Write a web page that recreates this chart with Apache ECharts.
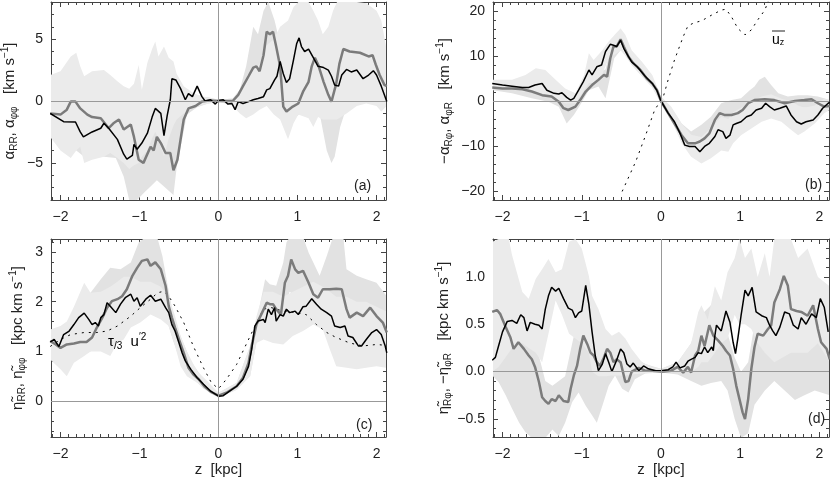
<!DOCTYPE html>
<html>
<head>
<meta charset="utf-8">
<script src="https://cdn.jsdelivr.net/npm/echarts@6/dist/echarts.min.js"></script>
<style>html,body{margin:0;padding:0;background:#fff}#chart{width:830px;height:480px}</style>
</head>
<body>
<div id="chart"></div>
<script>
// x range shared by all four panels (kpc)
const zRange = [-2.12, 2.12];
const zLabels = [-2, -1, 0, 1, 2];

// ---- panel (a): alpha_RR (black), alpha_phiphi (grey) ----
const aBlack = [[-2.13,-1.0],[-1.96,-1.67],[-1.81,-1.7],[-1.75,-2.5],[-1.71,-2.9],[-1.60,-2.5],[-1.49,-2.2],[-1.45,-1.8],[-1.39,-2.2],[-1.28,-3.1],[-1.20,-4.3],[-1.16,-4.7],[-1.09,-4.4],[-1.07,-3.5],[-1.03,-3.9],[-0.97,-3.4],[-0.90,-2.6],[-0.84,-1.3],[-0.80,-0.6],[-0.73,-1.0],[-0.69,-2.8],[-0.65,-1.2],[-0.61,0.1],[-0.59,1.8],[-0.54,1.7],[-0.48,1.0],[-0.42,0.1],[-0.38,0.6],[-0.33,0.35],[-0.27,1.2],[-0.21,0.35],[-0.17,0],[-0.10,0.1],[-0.04,-0.25],[0,0.05],
  [0.06,0.1],[0.12,-0.25],[0.17,-0.2],[0.21,-0.7],[0.25,-0.05],[0.31,-0.2],[0.38,-0.05],[0.44,0.1],[0.50,0.2],[0.57,0.35],[0.61,0.9],[0.65,1.0],[0.71,1.7],[0.74,2.0],[0.78,3.2],[0.82,2.2],[0.86,1.5],[0.90,1.8],[0.95,3.35],[0.99,4.65],[1.02,5.1],[1.05,4.4],[1.09,4.0],[1.14,4.2],[1.20,3.5],[1.26,2.8],[1.33,2.7],[1.39,2.5],[1.43,2.0],[1.47,1.3],[1.52,1.2],[1.56,2.1],[1.62,2.55],[1.68,2.35],[1.75,2.5],[1.83,1.8],[1.90,2.1],[1.96,2.45],[2.0,2.1],[2.06,1.2],[2.13,-0.05]];
const aGrey = [[-2.13,-1.0],[-2.0,-1.1],[-1.92,-0.7],[-1.87,-0.05],[-1.81,-0.05],[-1.75,-0.6],[-1.66,-1.1],[-1.60,-1.3],[-1.49,-1.4],[-1.39,-2.2],[-1.33,-1.8],[-1.26,-1.5],[-1.20,-2.3],[-1.11,-1.9],[-1.07,-2.9],[-1.01,-4.75],[-0.95,-5.0],[-0.86,-3.7],[-0.82,-4.0],[-0.78,-2.9],[-0.73,-3.4],[-0.67,-4.2],[-0.61,-4.2],[-0.57,-5.6],[-0.52,-4.75],[-0.48,-3.1],[-0.44,-1.5],[-0.38,-0.6],[-0.29,-0.4],[-0.21,-0.05],[-0.10,0.05],[0,0],
  [0.10,0],[0.18,0],[0.25,0.5],[0.31,1.2],[0.38,2.0],[0.44,2.7],[0.48,2.8],[0.52,2.4],[0.57,3.7],[0.61,5.6],[0.65,5.4],[0.69,5.6],[0.73,4.4],[0.78,2.8],[0.82,-0.45],[0.86,-0.85],[0.94,-0.45],[1.01,-0.2],[1.07,0.75],[1.14,1.55],[1.18,2.8],[1.22,3.5],[1.26,2.95],[1.33,1.55],[1.39,0.5],[1.43,-0.05],[1.49,1.4],[1.53,3.0],[1.58,4.2],[1.66,4.0],[1.79,3.9],[1.90,3.6],[1.95,3.7],[1.99,2.95],[2.04,2.1],[2.10,1.3],[2.13,1.2]];
// error bands: [z, low, high]
const aBandBlack = [[-2.13,-2.9,2.1],[-2.0,-4.0,2.4],[-1.87,-4.6,3.6],[-1.8,-4.0,3.9],[-1.75,-3.7,2.8],[-1.7,-5.0,2.0],[-1.6,-4.75,2.4],[-1.45,-4.5,2.5],[-1.37,-4.2,2.1],[-1.28,-4.6,1.6],[-1.2,-5.0,1.2],[-1.13,-5.5,1.0],[-1.07,-5.2,1.4],[-1.01,-5.0,2.9],[-0.97,-4.5,0.9],[-0.9,-4.0,3.1],[-0.84,-3.0,4.2],[-0.8,-2.5,4.8],[-0.76,-3.0,3.6],[-0.69,-4.5,4.4],[-0.63,-3.0,3.5],[-0.57,-2.0,3.2],[-0.53,-1.5,2.2],[-0.44,-1.0,1.2],[-0.31,-0.5,0.6],[-0.19,-0.3,0.35],[0,-0.05,0.1],
  [0.18,-0.4,0.2],[0.27,-1.0,0.9],[0.35,-1.4,1.5],[0.44,-1.1,2.5],[0.52,-0.7,3.0],[0.61,-0.4,4.5],[0.7,-1.1,5.0],[0.78,-1.5,6.0],[0.88,-3.1,6.5],[0.95,-1.8,7.6],[1.01,-1.1,8],[1.14,-1.4,8],[1.2,-2.1,7.3],[1.26,-1.3,6.5],[1.32,-1.5,5.4],[1.39,-1.5,6.0],[1.45,-1.5,7.3],[1.5,-1.5,8],[1.62,-1.0,8],[1.75,-0.4,8],[1.87,-0.2,7.9],[2.0,-0.4,7.3],[2.06,-0.85,6.5],[2.13,-0.4,4.1]];
const aBandGrey = [[-2.13,-2.5,1.0],[-2.0,-3.5,1.5],[-1.87,-4.0,2.5],[-1.8,-4.0,2.5],[-1.7,-4.5,1.0],[-1.6,-4.5,0.5],[-1.45,-4.5,0.2],[-1.3,-4.6,0],[-1.2,-6.1,-0.5],[-1.13,-8,-1.5],[-1.03,-8,-2.0],[-0.94,-7.4,-1.0],[-0.86,-6.9,-0.5],[-0.78,-6.4,0],[-0.69,-6.9,0],[-0.57,-7.6,-1.0],[-0.53,-5.4,-1.5],[-0.46,-3.1,-0.5],[-0.4,-1.1,0.3],[-0.27,-0.5,0.4],[-0.13,-0.2,0.3],[0,-0.05,0.1],
  [0.18,-0.3,0.2],[0.27,-0.5,0.9],[0.35,-0.5,2.8],[0.44,0.0,6.0],[0.5,0.5,5.4],[0.57,1.0,7.3],[0.63,1.5,8],[0.71,1.0,6.5],[0.78,-1.0,4.6],[0.82,-1.5,2.5],[0.88,-2.0,1.5],[0.95,-1.5,1.0],[1.03,-1.0,2.0],[1.11,-1.0,4.0],[1.2,-1.5,5.0],[1.28,-1.0,4.0],[1.37,-4.0,2.5],[1.43,-5.0,2.0],[1.47,-4.5,3.0],[1.54,-2.1,5.0],[1.62,-0.5,6.5],[1.75,0,6.5],[1.87,0.5,6.5],[2.0,0.0,6.0],[2.13,-0.2,4.0]];

// ---- panel (b): -alpha_Rphi (black), alpha_phiR (grey), mean u_z (dotted) ----
const bBlack = [[-2.13,3.9],[-2.0,3.55],[-1.88,3.3],[-1.75,3.0],[-1.67,3.0],[-1.59,3.55],[-1.50,3.9],[-1.44,2.4],[-1.35,1.7],[-1.29,1.55],[-1.25,1.85],[-1.19,0.8],[-1.14,0.2],[-1.10,0.6],[-1.04,2.4],[-0.98,4.3],[-0.91,6.9],[-0.87,5.8],[-0.81,7.6],[-0.75,8.0],[-0.70,11.0],[-0.64,12.6],[-0.60,12.4],[-0.56,12.1],[-0.51,13.5],[-0.47,11.7],[-0.41,9.85],[-0.37,8.7],[-0.30,7.6],[-0.20,5.5],[-0.11,3.9],[-0.05,2.3],[0,0],
  [0.09,-2.7],[0.17,-4.6],[0.24,-7.2],[0.30,-9.8],[0.36,-10.1],[0.43,-10.1],[0.49,-11.3],[0.55,-10.1],[0.61,-9.4],[0.68,-7.9],[0.72,-6.4],[0.78,-6.8],[0.82,-8.3],[0.87,-7.6],[0.91,-5.3],[0.95,-5.0],[1.01,-4.6],[1.08,-3.5],[1.14,-3.1],[1.20,-2.0],[1.27,-1.6],[1.32,-0.5],[1.37,-1.25],[1.43,-2.0],[1.50,-1.6],[1.58,-1.1],[1.64,-3.1],[1.71,-4.6],[1.77,-5.1],[1.83,-4.6],[1.92,-4.2],[1.98,-3.1],[2.04,-1.6],[2.11,-0.5],[2.13,-0.3]];
const bGrey = [[-2.13,3.0],[-2.0,2.8],[-1.88,2.8],[-1.75,2.6],[-1.63,2.1],[-1.50,1.3],[-1.38,1.0],[-1.29,-0.15],[-1.23,-1.6],[-1.17,-2.0],[-1.08,-1.25],[-1.02,0.2],[-0.95,2.1],[-0.87,3.55],[-0.79,4.7],[-0.72,5.8],[-0.68,5.4],[-0.64,9.5],[-0.60,12.1],[-0.56,12.1],[-0.51,13.7],[-0.47,12.1],[-0.41,9.85],[-0.35,8.4],[-0.26,6.9],[-0.18,5.0],[-0.11,3.9],[-0.05,2.4],[0,0],
  [0.09,-2.7],[0.17,-5.0],[0.26,-7.6],[0.34,-9.4],[0.43,-9.4],[0.49,-9.0],[0.55,-8.3],[0.61,-7.2],[0.68,-4.2],[0.74,-2.7],[0.80,-3.1],[0.89,-3.1],[0.97,-2.7],[1.03,-2.0],[1.10,-0.5],[1.18,0.2],[1.31,0.4],[1.43,0.2],[1.56,-0.5],[1.69,0],[1.81,0.2],[1.90,0.4],[1.98,-0.5],[2.06,-1.25],[2.13,-1.1]];
const bUz = [[-0.49,-20.1],[-0.32,-13.5],[-0.2,-7.9],[-0.08,-2],[0.03,1.0],[0.09,4.7],[0.17,9.1],[0.28,14.3],[0.34,16.7],[0.42,17.4],[0.51,17.8],[0.64,19.1],[0.76,20.2],[0.82,20.4],[0.89,18.7],[0.97,16.1],[1.06,14.7],[1.14,15.8],[1.22,18.0],[1.31,20.2],[1.36,22.5]];
const bBandBlack = [[-2.13,3.0,4.7],[-1.88,2.5,4.7],[-1.71,2.0,5.8],[-1.58,2.0,7.3],[-1.46,1.5,6.9],[-1.33,0.5,4.7],[-1.21,-0.5,2.8],[-1.08,-0.5,1.7],[-0.97,2.4,5.8],[-0.91,4.0,10.6],[-0.85,4.0,9.1],[-0.74,6.0,11.3],[-0.66,9.5,13.2],[-0.57,10.5,15.0],[-0.51,11.3,16.1],[-0.45,10.0,14.7],[-0.37,8.0,11.3],[-0.24,5.5,8.7],[-0.11,3.0,5.8],[0,-0.5,1.0],
  [0.13,-4.2,-1.25],[0.26,-9.4,-5.0],[0.38,-12.4,-7.5],[0.51,-13.9,-8.0],[0.63,-12.7,-6.0],[0.76,-11.0,-3.5],[0.85,-11.3,-4.0],[0.91,-9.4,-2.5],[1.01,-7.6,-1.5],[1.14,-6.1,0],[1.27,-4.6,1.0],[1.39,-3.9,1.5],[1.52,-4.6,0.5],[1.64,-6.4,0],[1.73,-7.6,-1.0],[1.81,-6.8,-1.5],[1.94,-5.0,-1.0],[2.06,-2.7,0.5],[2.13,-2.0,0.2]];
const bBandGrey = [[-2.13,2.4,4.0],[-1.88,1.7,3.8],[-1.63,0.6,3.5],[-1.42,-0.15,2.5],[-1.29,-1.25,1.0],[-1.19,-5.0,-0.5],[-1.10,-3.1,0.5],[-1.02,-0.9,1.5],[-0.91,2.4,4.5],[-0.79,3.2,6.5],[-0.70,0.6,7.0],[-0.66,3.9,10.0],[-0.59,9.5,13.5],[-0.51,11.3,16.1],[-0.45,10.5,14.0],[-0.37,8.0,11.0],[-0.20,4.7,7.5],[-0.11,3.0,5.0],[0,-0.5,1.0],
  [0.13,-4.0,-1.5],[0.26,-9.0,-5.0],[0.38,-11.5,-6.8],[0.51,-11.5,-5.3],[0.63,-10.0,-3.5],[0.76,-6.0,-0.5],[0.89,-5.5,0.2],[1.01,-5.0,0.6],[1.12,-3.0,2.4],[1.18,-2.5,3.2],[1.24,-2.0,4.7],[1.31,-1.5,5.4],[1.39,-2.0,3.55],[1.48,-2.5,1.7],[1.60,-2.0,1.0],[1.73,-1.5,1.3],[1.85,-1.5,1.3],[1.98,-2.0,1.0],[2.13,-2.0,0.2]];

// ---- panel (c): eta_RR (black), eta_phiphi (grey), tau/3 u'^2 (dotted) ----
const cBlack = [[-2.13,1.19],[-2.08,1.24],[-2.02,1.1],[-1.96,1.34],[-1.89,1.41],[-1.83,1.54],[-1.77,1.68],[-1.70,1.77],[-1.64,1.64],[-1.60,1.54],[-1.56,1.58],[-1.52,1.51],[-1.49,1.68],[-1.45,1.74],[-1.41,1.98],[-1.37,1.91],[-1.30,1.78],[-1.24,1.95],[-1.18,2.08],[-1.11,2.15],[-1.07,2.01],[-1.03,2.08],[-0.99,1.91],[-0.92,2.05],[-0.86,2.13],[-0.80,2.01],[-0.73,2.05],[-0.67,1.88],[-0.63,1.78],[-0.59,1.54],[-0.55,1.41],[-0.50,1.17],[-0.46,0.97],[-0.42,0.81],[-0.35,0.64],[-0.27,0.47],[-0.19,0.34],[-0.10,0.2],[0,0.1],
  [0.06,0.11],[0.14,0.2],[0.23,0.3],[0.31,0.44],[0.38,0.7],[0.42,1.04],[0.46,1.51],[0.50,1.61],[0.57,1.64],[0.59,1.58],[0.63,1.85],[0.67,1.74],[0.71,1.88],[0.73,1.61],[0.78,1.74],[0.82,1.71],[0.86,1.85],[0.90,1.78],[0.97,1.81],[1.01,1.74],[1.07,1.9],[1.11,1.91],[1.18,2.06],[1.24,1.95],[1.30,1.85],[1.37,1.78],[1.43,1.71],[1.47,1.51],[1.54,1.48],[1.60,1.51],[1.64,1.31],[1.70,1.28],[1.77,1.11],[1.81,1.11],[1.87,1.24],[1.94,1.38],[2.0,1.44],[2.06,1.34],[2.11,1.11],[2.13,0.97]];
const cGrey = [[-2.13,1.21],[-2.06,1.14],[-2.0,1.07],[-1.92,1.14],[-1.83,1.16],[-1.75,1.19],[-1.67,1.19],[-1.60,1.28],[-1.54,1.48],[-1.47,1.68],[-1.41,1.88],[-1.35,2.01],[-1.28,2.05],[-1.22,2.11],[-1.16,2.25],[-1.09,2.52],[-1.03,2.68],[-0.97,2.82],[-0.90,2.85],[-0.86,2.72],[-0.80,2.79],[-0.73,2.65],[-0.67,2.32],[-0.63,1.91],[-0.59,1.68],[-0.55,1.48],[-0.50,1.24],[-0.44,0.97],[-0.38,0.67],[-0.32,0.54],[-0.25,0.44],[-0.18,0.3],[-0.09,0.18],[0,0.11],
  [0.10,0.17],[0.23,0.3],[0.31,0.47],[0.38,0.77],[0.42,1.11],[0.48,1.54],[0.54,1.74],[0.61,1.98],[0.65,1.95],[0.69,1.95],[0.73,1.85],[0.79,1.74],[0.84,2.38],[0.88,2.52],[0.92,2.85],[0.97,2.65],[1.01,2.58],[1.07,2.62],[1.14,2.38],[1.20,2.15],[1.26,2.08],[1.32,2.25],[1.41,2.25],[1.49,2.26],[1.56,2.25],[1.62,1.85],[1.66,1.68],[1.75,1.78],[1.83,1.71],[1.92,1.88],[2.0,1.71],[2.08,1.58],[2.13,1.38]];
const cTau = [[-2.13,1.1],[-2.0,1.24],[-1.87,1.34],[-1.70,1.38],[-1.54,1.38],[-1.41,1.41],[-1.28,1.51],[-1.11,1.71],[-0.99,1.88],[-0.86,2.05],[-0.77,2.18],[-0.69,2.21],[-0.63,2.11],[-0.55,1.91],[-0.44,1.58],[-0.32,1.11],[-0.19,0.67],[-0.09,0.37],[0,0.25],
  [0.10,0.44],[0.23,0.74],[0.35,1.14],[0.44,1.44],[0.50,1.64],[0.57,1.85],[0.67,1.88],[0.82,1.81],[0.99,1.78],[1.11,1.74],[1.24,1.54],[1.37,1.38],[1.49,1.28],[1.66,1.17],[1.83,1.11],[2.0,1.14],[2.13,1.12]];
const cBandBlack = [[-2.13,0.84,1.44],[-2.0,0.64,1.51],[-1.92,0.5,1.6],[-1.83,0.77,1.9],[-1.7,0.91,2.38],[-1.62,1.0,2.18],[-1.49,1.0,2.2],[-1.37,0.91,2.3],[-1.28,1.17,2.4],[-1.2,1.24,2.5],[-1.11,1.48,2.5],[-0.99,1.58,2.4],[-0.86,1.74,2.4],[-0.73,1.64,2.3],[-0.63,1.51,2.1],[-0.55,1.11,1.71],[-0.48,0.7,1.31],[-0.4,0.5,1.0],[-0.27,0.37,0.6],[-0.14,0.23,0.4],[0,0.07,0.17],
  [0.23,0.23,0.37],[0.4,0.5,1.11],[0.48,1.17,1.7],[0.57,1.24,2.2],[0.69,1.17,2.2],[0.82,1.14,2.1],[0.94,1.31,2.2],[1.07,1.41,2.3],[1.2,1.54,2.4],[1.32,1.44,2.3],[1.41,1.04,2.2],[1.49,0.7,2.1],[1.62,0.67,2.1],[1.75,0.64,2.0],[1.87,0.67,2.0],[2.0,0.7,1.9],[2.13,0.67,1.8]];
const cBandGrey = [[-2.13,0.9,1.44],[-2.0,0.8,1.4],[-1.87,0.8,1.64],[-1.75,0.9,2.05],[-1.62,1.0,2.18],[-1.49,1.2,2.45],[-1.37,1.5,2.68],[-1.24,1.6,2.65],[-1.11,1.9,2.79],[-1.01,2.2,3.19],[-0.92,2.3,3.3],[-0.86,2.2,3.3],[-0.77,2.1,3.26],[-0.71,1.9,2.92],[-0.65,1.6,2.38],[-0.57,1.2,1.71],[-0.48,0.8,1.31],[-0.35,0.5,0.81],[-0.19,0.25,0.44],[0,0.07,0.17],
  [0.23,0.23,0.37],[0.4,0.5,1.11],[0.48,1.17,1.6],[0.52,1.3,1.91],[0.59,1.5,2.45],[0.65,1.6,2.35],[0.73,1.5,2.32],[0.82,1.8,2.79],[0.86,2.0,3.19],[0.9,2.2,3.3],[1.07,2.0,3.3],[1.14,1.8,2.99],[1.2,1.6,2.79],[1.28,1.5,2.52],[1.37,1.6,2.92],[1.45,1.5,3.3],[1.58,1.4,3.3],[1.62,1.2,2.65],[1.75,1.2,2.52],[1.87,1.2,2.45],[2.0,1.1,2.38],[2.13,1.0,2.11]];

// ---- panel (d): eta_Rphi (black), -eta_phiR (grey) ----
const dBlack = [[-2.13,0.12],[-2.09,0.15],[-2.05,0.27],[-2.0,0.42],[-1.94,0.53],[-1.88,0.54],[-1.82,0.51],[-1.77,0.6],[-1.73,0.57],[-1.69,0.43],[-1.65,0.52],[-1.59,0.5],[-1.54,0.49],[-1.50,0.45],[-1.46,0.66],[-1.42,0.8],[-1.38,0.89],[-1.33,0.85],[-1.29,0.88],[-1.23,0.77],[-1.17,0.67],[-1.12,0.65],[-1.08,0.57],[-1.04,0.62],[-1.0,0.64],[-0.95,0.91],[-0.91,0.71],[-0.87,0.42],[-0.83,0.17],[-0.79,0.01],[-0.74,0.08],[-0.70,0.19],[-0.66,0.1],[-0.62,0],[-0.56,0.12],[-0.51,0.24],[-0.47,0.2],[-0.43,0.08],[-0.39,0.05],[-0.35,0.09],[-0.28,0.01],[-0.22,0.06],[-0.16,0.03],[-0.07,0.01],[0,0.01],
  [0.09,0.02],[0.15,0.05],[0.19,0.1],[0.24,0.04],[0.30,0.06],[0.34,0.11],[0.38,0.13],[0.43,0.15],[0.47,0.2],[0.51,0.19],[0.55,0.26],[0.59,0.2],[0.64,0.26],[0.66,0.22],[0.68,0.38],[0.70,0.49],[0.72,0.5],[0.76,0.43],[0.82,0.64],[0.87,0.52],[0.91,0.31],[0.94,0.19],[0.97,0.35],[1.01,0.59],[1.06,0.86],[1.10,0.8],[1.15,0.89],[1.20,0.63],[1.27,0.59],[1.33,0.57],[1.37,0.49],[1.41,0.43],[1.45,0.38],[1.50,0.47],[1.56,0.63],[1.62,0.61],[1.67,0.49],[1.73,0.45],[1.77,0.57],[1.83,0.5],[1.90,0.61],[1.96,0.57],[2.01,0.77],[2.06,0.68],[2.11,0.42]];
const dGrey = [[-2.13,0.63],[-2.07,0.65],[-2.03,0.61],[-1.96,0.47],[-1.90,0.36],[-1.86,0.24],[-1.80,0.31],[-1.73,0.24],[-1.67,0.17],[-1.63,0.13],[-1.59,0.05],[-1.54,-0.11],[-1.50,-0.27],[-1.46,-0.31],[-1.42,-0.34],[-1.38,-0.29],[-1.33,-0.31],[-1.29,-0.25],[-1.23,-0.31],[-1.17,-0.32],[-1.14,-0.18],[-1.10,-0.04],[-1.06,0.06],[-1.02,0.24],[-0.98,0.38],[-0.93,0.29],[-0.89,0.2],[-0.85,0.17],[-0.81,0.1],[-0.77,0.06],[-0.72,0.15],[-0.68,0.24],[-0.64,0.2],[-0.60,0.1],[-0.56,0.13],[-0.51,0.1],[-0.45,-0.11],[-0.41,-0.1],[-0.37,0],[-0.28,0.04],[-0.20,0.01],[-0.11,0.01],[0,0],
  [0.13,0.01],[0.21,0.05],[0.28,-0.01],[0.34,0.05],[0.38,-0.01],[0.43,0.17],[0.47,0.22],[0.51,0.38],[0.55,0.27],[0.61,0.49],[0.66,0.38],[0.72,0.33],[0.78,0.27],[0.82,0.22],[0.87,0.17],[0.91,0.03],[0.95,-0.15],[0.99,-0.29],[1.03,-0.43],[1.06,-0.5],[1.10,-0.29],[1.14,0.03],[1.18,0.26],[1.22,0.4],[1.29,0.38],[1.35,0.45],[1.39,0.49],[1.43,0.73],[1.50,0.87],[1.55,1.01],[1.60,0.91],[1.64,0.66],[1.71,0.64],[1.77,0.63],[1.85,0.59],[1.92,0.7],[1.98,0.45],[2.02,0.31],[2.09,0.24],[2.13,0.13]];
const dBandBlack = [[-2.13,0.0,1.37],[-2.05,0.05,1.4],[-1.92,0.2,1.4],[-1.88,0.25,1.23],[-1.75,0.3,0.84],[-1.67,0.25,0.77],[-1.58,0.2,0.98],[-1.5,0.1,1.08],[-1.42,0.4,1.19],[-1.33,0.75,1.05],[-1.25,0.6,1.08],[-1.16,0.4,1.37],[-1.08,0.35,1.4],[-1.0,0.3,1.3],[-0.91,0.2,1.01],[-0.87,0.0,0.8],[-0.79,-0.05,0.66],[-0.7,-0.05,0.45],[-0.62,-0.04,0.38],[-0.53,-0.04,0.42],[-0.45,-0.04,0.35],[-0.37,-0.03,0.24],[-0.24,-0.02,0.1],[-0.11,-0.01,0.05],[0,-0.01,0.03],
  [0.21,0.0,0.1],[0.38,0.0,0.3],[0.47,0.05,0.63],[0.51,0.1,0.7],[0.59,0.1,0.55],[0.68,0.2,0.9],[0.76,0.3,0.75],[0.84,0.35,1.05],[0.93,0.6,1.2],[0.99,0.5,1.4],[1.06,0.5,1.2],[1.14,0.45,1.3],[1.22,0.3,1.0],[1.31,0.2,1.25],[1.37,0.15,1.0],[1.43,0.1,1.4],[1.64,0.2,1.4],[1.73,0.2,1.2],[1.85,0.2,1.3],[1.98,0.3,1.0],[2.13,0.1,0.9]];
const dBandGrey = [[-2.13,-0.04,1.0],[-2.05,-0.11,1.1],[-1.96,-0.25,0.9],[-1.88,-0.39,0.7],[-1.79,-0.54,0.6],[-1.71,-0.64,0.5],[-1.63,-0.7,0.4],[-1.55,-0.7,0.2],[-1.46,-0.7,-0.1],[-1.37,-0.61,-0.15],[-1.29,-0.68,-0.1],[-1.21,-0.54,-0.05],[-1.12,-0.32,0.3],[-1.04,-0.22,0.6],[-0.95,-0.36,0.7],[-0.87,-0.46,0.5],[-0.81,-0.54,0.4],[-0.74,-0.36,0.35],[-0.66,-0.15,0.38],[-0.58,-0.04,0.3],[-0.49,-0.18,0.3],[-0.41,-0.22,0.2],[-0.33,-0.08,0.15],[-0.2,-0.02,0.08],[0,-0.01,0.03],
  [0.21,-0.03,0.1],[0.38,-0.1,0.3],[0.51,-0.15,0.6],[0.63,-0.12,0.7],[0.76,-0.1,0.6],[0.84,-0.2,0.4],[0.93,-0.5,0.15],[1.01,-0.7,0.0],[1.1,-0.65,0.1],[1.18,-0.35,0.5],[1.31,-0.2,0.8],[1.43,-0.1,1.2],[1.56,-0.2,1.4],[1.69,-0.3,1.2],[1.81,-0.25,1.0],[1.94,-0.2,0.9],[2.13,-0.25,0.6]];

// y tick labels per panel
const aYLabels = [-5, 0, 5];
const bYLabels = [-20, -10, 0, 10, 20];
const cYLabels = [0, 1, 2, 3];
const dYLabels = [-0.5, 0, 0.5, 1.0];

const FONT = '"Liberation Sans", "DejaVu Sans", sans-serif';
const INK = '#222';
const FRAME = '#444';

const rich = {
  m: { fontSize: 15, fontFamily: FONT, color: INK, lineHeight: 19 },
  s: { fontSize: 10, fontFamily: FONT, color: INK, lineHeight: 10, verticalAlign: 'bottom' },
  p: { fontSize: 10, fontFamily: FONT, color: INK, lineHeight: 10, verticalAlign: 'top' }
};

const panels = [
  { grid: { left: 51, top: 2, width: 335, height: 198 }, y: [-8, 8], yLabels: aYLabels, yMinor: 1, dec: 0,
    yName: '{m|α}{s|RR}{m|, α}{s|φφ}{m|   [km s}{p|−1}{m|]}', nameGap: 32, xName: '' },
  { grid: { left: 493, top: 2, width: 336, height: 198 }, y: [-22, 22], yLabels: bYLabels, yMinor: 2, dec: 0,
    yName: '{m|−α}{s|Rφ}{m|, α}{s|φR}{m|   [km s}{p|−1}{m|]}', nameGap: 39, xName: '' },
  { grid: { left: 51, top: 239, width: 335, height: 198 }, y: [-0.72, 3.26], yLabels: cYLabels, yMinor: 0.2, dec: 0,
    yName: '{m|η̃}{s|RR}{m|, η̃}{s|φφ}{m|   [kpc km s}{p|−1}{m|]}', nameGap: 24, xName: 'z  [kpc]' },
  { grid: { left: 493, top: 239, width: 336, height: 198 }, y: [-0.69, 1.40], yLabels: dYLabels, yMinor: 0.1, dec: 1,
    yName: '{m|η̃}{s|Rφ}{m|, −η̃}{s|φR}{m|   [kpc km s}{p|−1}{m|]}', nameGap: 38, xName: 'z  [kpc]' }
];

function minorTicks(min, max, step) {
  const out = [];
  for (let k = Math.ceil(min / step - 1e-9); k * step <= max + 1e-9; k++) out.push(+(k * step).toFixed(6));
  return out;
}
const fmt = dec => v => (dec ? v.toFixed(dec) : String(v)).replace('-', '−');

const grids = [], xAxes = [], yAxes = [];
panels.forEach((p, i) => {
  grids.push(Object.assign({ outerBoundsMode: 'none', containLabel: false }, p.grid));
  const zMinor = minorTicks(zRange[0], zRange[1], 0.1);
  const yMinor = minorTicks(p.y[0], p.y[1], p.yMinor);
  const tickStyle = { color: FRAME, width: 1 };
  const labelStyle = { fontSize: 14, fontFamily: FONT, color: INK };
  ['bottom', 'top'].forEach(pos => {
    const main = pos === 'bottom';
    xAxes.push({ gridIndex: i, type: 'value', min: zRange[0], max: zRange[1], position: pos,
      axisLine: { show: true, onZero: false, lineStyle: { color: FRAME, width: 1 } },
      axisTick: { show: true, inside: true, length: 5, customValues: zLabels, lineStyle: tickStyle },
      axisLabel: { show: main, customValues: zLabels, formatter: fmt(0), margin: 10, ...labelStyle },
      splitLine: { show: false },
      name: main ? p.xName : '', nameLocation: 'middle', nameGap: 25,
      nameTextStyle: { fontSize: 15, fontFamily: FONT, color: INK } });
    xAxes.push({ gridIndex: i, type: 'value', min: zRange[0], max: zRange[1], position: pos,
      axisLine: { show: false, onZero: false },
      axisTick: { show: true, inside: true, length: 3, customValues: zMinor, lineStyle: tickStyle },
      axisLabel: { show: false }, splitLine: { show: false } });
  });
  ['left', 'right'].forEach(pos => {
    const main = pos === 'left';
    yAxes.push({ gridIndex: i, type: 'value', min: p.y[0], max: p.y[1], position: pos,
      axisLine: { show: true, onZero: false, lineStyle: { color: FRAME, width: 1 } },
      axisTick: { show: true, inside: true, length: 5, customValues: p.yLabels, lineStyle: tickStyle },
      axisLabel: { show: main, customValues: p.yLabels, formatter: fmt(p.dec), margin: 8, ...labelStyle },
      splitLine: { show: false },
      name: main ? p.yName : '', nameLocation: 'middle', nameRotate: 90, nameGap: p.nameGap,
      nameTextStyle: { rich: rich } });
    yAxes.push({ gridIndex: i, type: 'value', min: p.y[0], max: p.y[1], position: pos,
      axisLine: { show: false, onZero: false },
      axisTick: { show: true, inside: true, length: 3, customValues: yMinor, lineStyle: tickStyle },
      axisLabel: { show: false }, splitLine: { show: false } });
  });
});

// grey-line band is a touch darker and sits under the lighter black-line band
function band(rows, i, fill) {
  return {
    type: 'custom', xAxisIndex: i * 4, yAxisIndex: i * 4, clip: true, silent: true, z: 1,
    data: [[0, 0]],
    renderItem: (params, api) => {
      const upper = rows.map(r => api.coord([r[0], r[2]]));
      const lower = rows.slice().reverse().map(r => api.coord([r[0], r[1]]));
      return { type: 'polygon', shape: { points: upper.concat(lower) }, style: { fill: fill } };
    }
  };
}
function line(data, i, color, width, dash, z) {
  return { type: 'line', xAxisIndex: i * 4, yAxisIndex: i * 4, data: data, symbol: 'none',
    clip: true, silent: true, z: z,
    lineStyle: { color: color, width: width, type: dash || 'solid' } };
}
function zeroLines(i) {
  return { type: 'line', xAxisIndex: i * 4, yAxisIndex: i * 4, data: [], silent: true, z: 2,
    markLine: { silent: true, symbol: 'none', label: { show: false }, animation: false,
      lineStyle: { color: '#999', width: 1, type: 'solid' },
      data: [{ xAxis: 0 }, { yAxis: 0 }] } };
}

const GREY = '#7b7b7b';
const DARK_BAND = '#e2e2e2', LIGHT_BAND = '#ebebeb';
const series = [
  band(aBandGrey, 0, DARK_BAND), band(aBandBlack, 0, LIGHT_BAND), zeroLines(0),
  line(aGrey, 0, GREY, 2.5, null, 3), line(aBlack, 0, '#000', 1.5, null, 4),
  band(bBandGrey, 1, DARK_BAND), band(bBandBlack, 1, LIGHT_BAND), zeroLines(1),
  line(bUz, 1, '#000', 1, [2, 5], 3),
  line(bGrey, 1, GREY, 2.5, null, 3), line(bBlack, 1, '#000', 1.5, null, 4),
  band(cBandGrey, 2, DARK_BAND), band(cBandBlack, 2, LIGHT_BAND), zeroLines(2),
  line(cTau, 2, '#000', 1, [2, 5], 3),
  line(cGrey, 2, GREY, 2.5, null, 3), line(cBlack, 2, '#000', 1.5, null, 4),
  band(dBandGrey, 3, DARK_BAND), band(dBandBlack, 3, LIGHT_BAND), zeroLines(3),
  line(dGrey, 3, GREY, 2.5, null, 3), line(dBlack, 3, '#000', 1.5, null, 4)
];

const label = (text, left, top) => ({ type: 'text', left: left, top: top, z: 10,
  style: { text: text, font: '14px ' + FONT, fill: INK } });

const chart = echarts.init(document.getElementById('chart'), null, { renderer: 'canvas' });
chart.setOption({
  backgroundColor: '#fff',
  animation: false,
  grid: grids,
  xAxis: xAxes,
  yAxis: yAxes,
  series: series,
  graphic: [
    label('(a)', 354, 179), label('(b)', 805, 178), label('(c)', 356, 418), label('(d)', 808, 412),
    { type: 'text', left: 772, top: 33, z: 10,
      style: { text: '{m|u}{s|z}', rich: { m: { fontSize: 14, fontFamily: FONT, color: INK, lineHeight: 15 },
        s: { fontSize: 9, fontFamily: FONT, color: INK, lineHeight: 9, verticalAlign: 'bottom' } } } },
    { type: 'line', z: 10, shape: { x1: 772, y1: 31, x2: 785, y2: 31 }, style: { stroke: INK, lineWidth: 1 } },
    { type: 'text', left: 108, top: 332, z: 10,
      style: { text: '{m|τ}{s|/3}{m|  u}{p|′2}', rich: rich } }
  ]
});
</script>
</body>
</html>
